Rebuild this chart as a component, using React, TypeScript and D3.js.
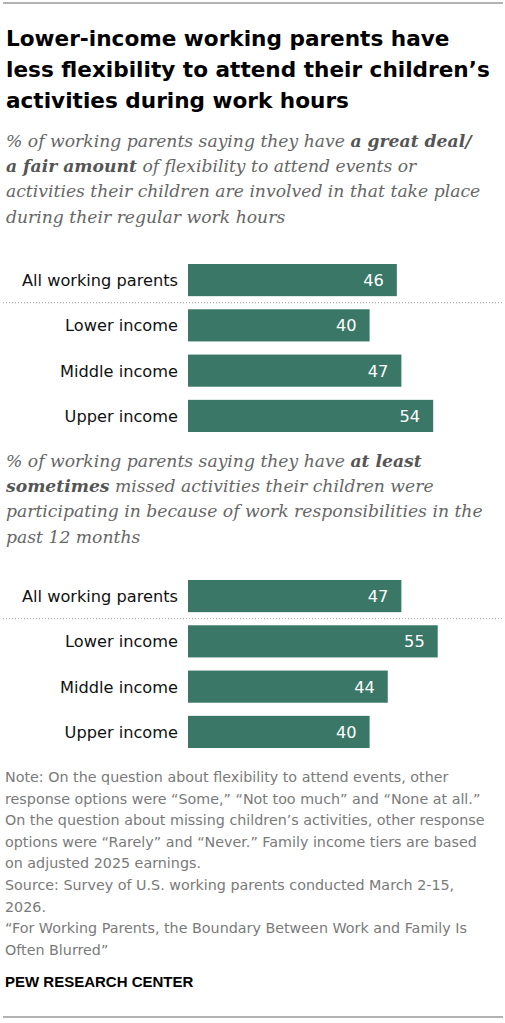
import React from "react";
import * as d3 from "d3";

const categories = ["All working parents", "Lower income", "Middle income", "Upper income"];
const flexibilityValues = [46, 40, 47, 54];
const missedValues = [47, 55, 44, 40];

const titleLines = [
  "Lower-income working parents have",
  "less flexibility to attend their children\u2019s",
  "activities during work hours",
];

type Seg = { t: string; b?: boolean };
const subtitle1: Seg[][] = [
  [{ t: "% of working parents saying they have " }, { t: "a great deal/", b: true }],
  [{ t: "a fair amount", b: true }, { t: " of flexibility to attend events or" }],
  [{ t: "activities their children are involved in that take place" }],
  [{ t: "during their regular work hours" }],
];
const subtitle2: Seg[][] = [
  [{ t: "% of working parents saying they have " }, { t: "at least", b: true }],
  [{ t: "sometimes", b: true }, { t: " missed activities their children were" }],
  [{ t: "participating in because of work responsibilities in the" }],
  [{ t: "past 12 months" }],
];

const noteLines = [
  "Note: On the question about flexibility to attend events, other",
  "response options were \u201cSome,\u201d \u201cNot too much\u201d and \u201cNone at all.\u201d",
  "On the question about missing children\u2019s activities, other response",
  "options were \u201cRarely\u201d and \u201cNever.\u201d Family income tiers are based",
  "on adjusted 2025 earnings.",
  "Source: Survey of U.S. working parents conducted March 2-15,",
  "2026.",
  "\u201cFor Working Parents, the Boundary Between Work and Family Is",
  "Often Blurred\u201d",
];

const W = 505;
const H = 1023;
const BAR = "#3a7767";
const SANS = "'DejaVu Sans', 'Liberation Sans', sans-serif";
const ARIAL = "'Liberation Sans', Arial, sans-serif";
const SERIF = "'DejaVu Serif', Georgia, serif";

const x = d3.scaleLinear().domain([0, 100]).range([188, 642]);

function Subtitle({ lines, y0 }: { lines: Seg[][]; y0: number }) {
  return (
    <g>
      {lines.map((segs, i) => (
        <text key={i} x={6} y={y0 + i * 25.2} fontFamily={SERIF} fontStyle="italic" fontSize={17.2} fill="#666666">
          {segs.map((s, j) => (
            <tspan key={j} fontWeight={s.b ? "bold" : "normal"} fill={s.b ? "#555555" : "#666666"}>
              {s.t}
            </tspan>
          ))}
        </text>
      ))}
    </g>
  );
}

function Panel({ values, top }: { values: number[]; top: number }) {
  const y = d3.scaleBand<string>().domain(categories).range([top, top + 168]).paddingInner(0.29).paddingOuter(0);
  const bw = y.bandwidth();
  const sepY = ((y(categories[0]) as number) + bw + (y(categories[1]) as number)) / 2;
  return (
    <g>
      {categories.map((c, i) => {
        const yy = y(c) as number;
        const v = values[i];
        return (
          <g key={c}>
            <rect x={x(0)} y={yy} width={x(v) - x(0)} height={bw} fill={BAR} />
            <text x={178} y={yy + bw / 2 + 6} textAnchor="end" fontFamily={SANS} fontSize={16.2} fill="#111">
              {c}
            </text>
            <text x={x(v) - 13} y={yy + bw / 2 + 6} textAnchor="end" fontFamily={SANS} fontSize={16.2} fill="#fff">
              {v}
            </text>
          </g>
        );
      })}
      <line x1={3} x2={503} y1={sepY} y2={sepY} stroke="#999" strokeWidth={1} strokeDasharray="1,2" />
    </g>
  );
}

export default function App() {
  return (
    <svg width={W} height={H} style={{ position: "absolute", left: 0, top: 0, background: "#fff" }}>
      <rect width={W} height={H} fill="#fff" />
      <line x1={3} x2={503} y1={3} y2={3} stroke="#999" strokeWidth={1.5} />
      {titleLines.map((t, i) => (
        <text key={i} x={6} y={46 + i * 30.8} fontFamily={SANS} fontWeight="bold" fontSize={21.6} fill="#000">
          {t}
        </text>
      ))}
      <Subtitle lines={subtitle1} y0={147} />
      <Panel values={flexibilityValues} top={264} />
      <Subtitle lines={subtitle2} y0={467} />
      <Panel values={missedValues} top={580} />
      {noteLines.map((t, i) => (
        <text key={i} x={5} y={782 + i * 21.6} fontFamily={SANS} fontSize={14.3} fill="#7a7a7a">
          {t}
        </text>
      ))}
      <text x={5} y={987} fontFamily={ARIAL} fontWeight="bold" fontSize={15} fill="#000">
        PEW RESEARCH CENTER
      </text>
      <line x1={3} x2={503} y1={1017} y2={1017} stroke="#999" strokeWidth={1.5} />
    </svg>
  );
}
